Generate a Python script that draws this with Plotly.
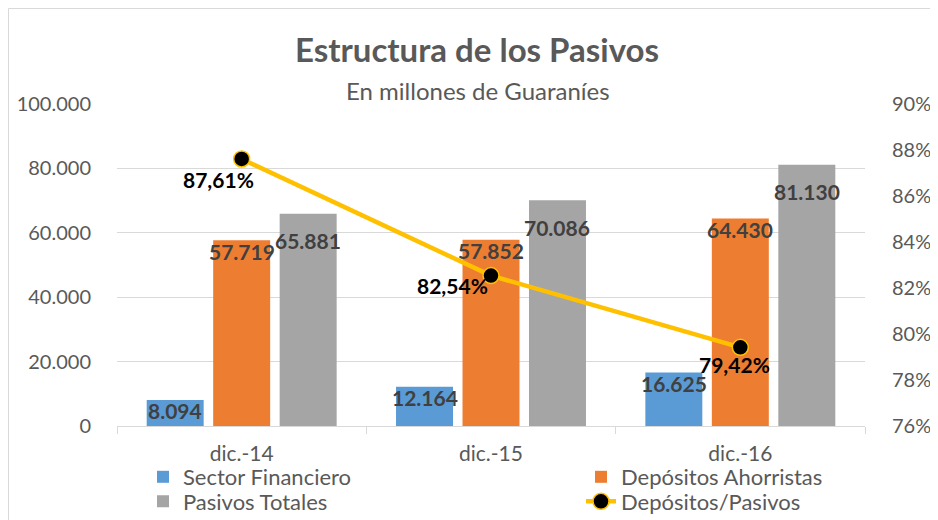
import plotly.graph_objects as go

# ---------------- data ----------------
categories = ["dic.-14", "dic.-15", "dic.-16"]
sector_financiero = [8094, 12164, 16625]
depositos_ahorristas = [57719, 57852, 64430]
pasivos_totales = [65881, 70086, 81130]
depositos_pasivos_pct = [87.61, 82.54, 79.42]

series_names = ["Sector Financiero", "Depósitos Ahorristas", "Pasivos Totales"]
line_name = "Depósitos/Pasivos"

# ---------------- styling ----------------
FONT = "Lato"
TXT = "#595959"
GRID = "#D9D9D9"
bar_colors = ["#5B9BD5", "#ED7D31", "#A5A5A5"]
LINE_COLOR = "#FFC000"

OFF = 8  # page body margin in the browser
W, H = 938 - OFF, 520 - OFF
plot_left, plot_right, plot_top, plot_bottom = 117 - OFF, 865 - OFF, 104 - OFF, 426 - OFF
L, R, T, B = plot_left, W - plot_right, plot_top, H - plot_bottom
plot_w = plot_right - plot_left
plot_h = plot_bottom - plot_top

BARGAP = 0.2
BARGROUPGAP = 0.143
cat_px = plot_w / len(categories)
slot_px = cat_px * (1 - BARGAP) / 3


def fmt_thousands(v):
    return f"{v:,}".replace(",", ".")


def fmt_pct(v):
    return f"{v:.2f}%".replace(".", ",")


def px_x(px):  # screen px -> paper
    return (px - OFF - L) / plot_w


def px_y(py):  # screen px -> paper
    return (plot_bottom - (py - OFF)) / plot_h


fig = go.Figure()

series = [sector_financiero, depositos_ahorristas, pasivos_totales]
legend_ids = ["legend", "legend3", "legend2"]
for name, vals, col, lg in zip(series_names, series, bar_colors, legend_ids):
    fig.add_trace(go.Bar(
        x=categories, y=vals, name=name, marker_color=col,
        marker_line_width=0, legend=lg, showlegend=True,
    ))

fig.add_trace(go.Scatter(
    x=categories, y=[v / 100 for v in depositos_pasivos_pct], name=line_name,
    yaxis="y2", mode="lines+markers", legend="legend4", showlegend=True,
    line=dict(color=LINE_COLOR, width=4.5),
    marker=dict(color="black", size=16, line=dict(color=LINE_COLOR, width=1.5)),
))

annotations = []
# bar value labels (inside end, as in the original)
label_drop = [11, 11, 27]
for i, (vals, drop) in enumerate(zip(series, label_drop)):
    for c, v in zip(categories, vals):
        annotations.append(dict(
            x=c, y=v, xref="x", yref="y", text=fmt_thousands(v), showarrow=False,
            xshift=(i - 1) * slot_px, yshift=-drop, yanchor="middle",
            font=dict(family=FONT, size=21, color="#404040", weight="bold"),
        ))

# percentage labels (manually nudged below/left of markers as in the original)
pct_nudge = [(-23, -21), (-39, -10), (-6, -17)]
for c, v, (dx, dy) in zip(categories, depositos_pasivos_pct, pct_nudge):
    annotations.append(dict(
        x=c, y=v / 100, xref="x", yref="y2", text=fmt_pct(v), showarrow=False,
        xshift=dx, yshift=dy, yanchor="middle",
        font=dict(family=FONT, size=21, color="black", weight="bold"),
    ))

# subtitle
annotations.append(dict(
    x=px_x(478), y=px_y(90), xref="paper", yref="paper", text="En millones de Guaraníes",
    showarrow=False, xanchor="center", yanchor="middle",
    font=dict(family=FONT, size=24, color=TXT),
))

legend_common = dict(
    orientation="v", xanchor="left", yanchor="top", bgcolor="rgba(0,0,0,0)",
    font=dict(family=FONT, size=22, color=TXT), itemclick=False, itemdoubleclick=False,
    visible=True,
)
row1_top = 456
row2_top = 480.5
col1_x = 143
col2_x = 581

fig.update_layout(
    width=W, height=H,
    margin=dict(l=L, r=R, t=T, b=B, autoexpand=False),
    paper_bgcolor="white", plot_bgcolor="white",
    separators=",.",
    showlegend=True,
    font=dict(family=FONT, color=TXT),
    title=dict(
        text="<b>Estructura de los Pasivos</b>",
        x=(477 - OFF) / W, y=1 - (50 - OFF) / H, xref="container", yref="container",
        xanchor="center", yanchor="middle",
        font=dict(family=FONT, size=33, color=TXT),
    ),
    barmode="group", bargap=BARGAP, bargroupgap=BARGROUPGAP,
    xaxis=dict(
        type="category", showline=True, linecolor=GRID, linewidth=1,
        ticks="outside", tickson="boundaries", ticklen=7, tickcolor=GRID,
        tickfont=dict(family=FONT, size=21, color=TXT), ticklabelstandoff=9,
        showgrid=False, zeroline=False, fixedrange=True,
    ),
    yaxis=dict(
        range=[0, 100000], dtick=20000, tickformat=",d",
        showgrid=True, gridcolor=GRID, gridwidth=1, zeroline=False,
        showline=False, ticks="outside", ticklen=21, tickcolor="rgba(0,0,0,0)",
        tickfont=dict(family=FONT, size=20, color=TXT), fixedrange=True,
    ),
    yaxis2=dict(
        overlaying="y", side="right", range=[0.76, 0.90], dtick=0.02,
        tickformat=".0%", showgrid=False, zeroline=False, showline=False,
        ticks="outside", ticklen=22, tickcolor="rgba(0,0,0,0)",
        tickfont=dict(family=FONT, size=20, color=TXT), fixedrange=True,
    ),
    legend=dict(x=px_x(col1_x), y=px_y(row1_top), **legend_common),
    legend2=dict(x=px_x(col1_x), y=px_y(row2_top), **legend_common),
    legend3=dict(x=px_x(col2_x), y=px_y(row1_top), **legend_common),
    legend4=dict(x=px_x(col2_x), y=px_y(row2_top), **legend_common),
    annotations=annotations,
    shapes=[dict(
        type="rect", xref="paper", yref="paper",
        x0=px_x(OFF + 0.5), x1=px_x(W + OFF + 20), y0=px_y(H + OFF + 20), y1=px_y(OFF + 0.5),
        line=dict(color=GRID, width=1), fillcolor="rgba(0,0,0,0)", layer="below",
    )],
)

fig.write_html("out.html")
